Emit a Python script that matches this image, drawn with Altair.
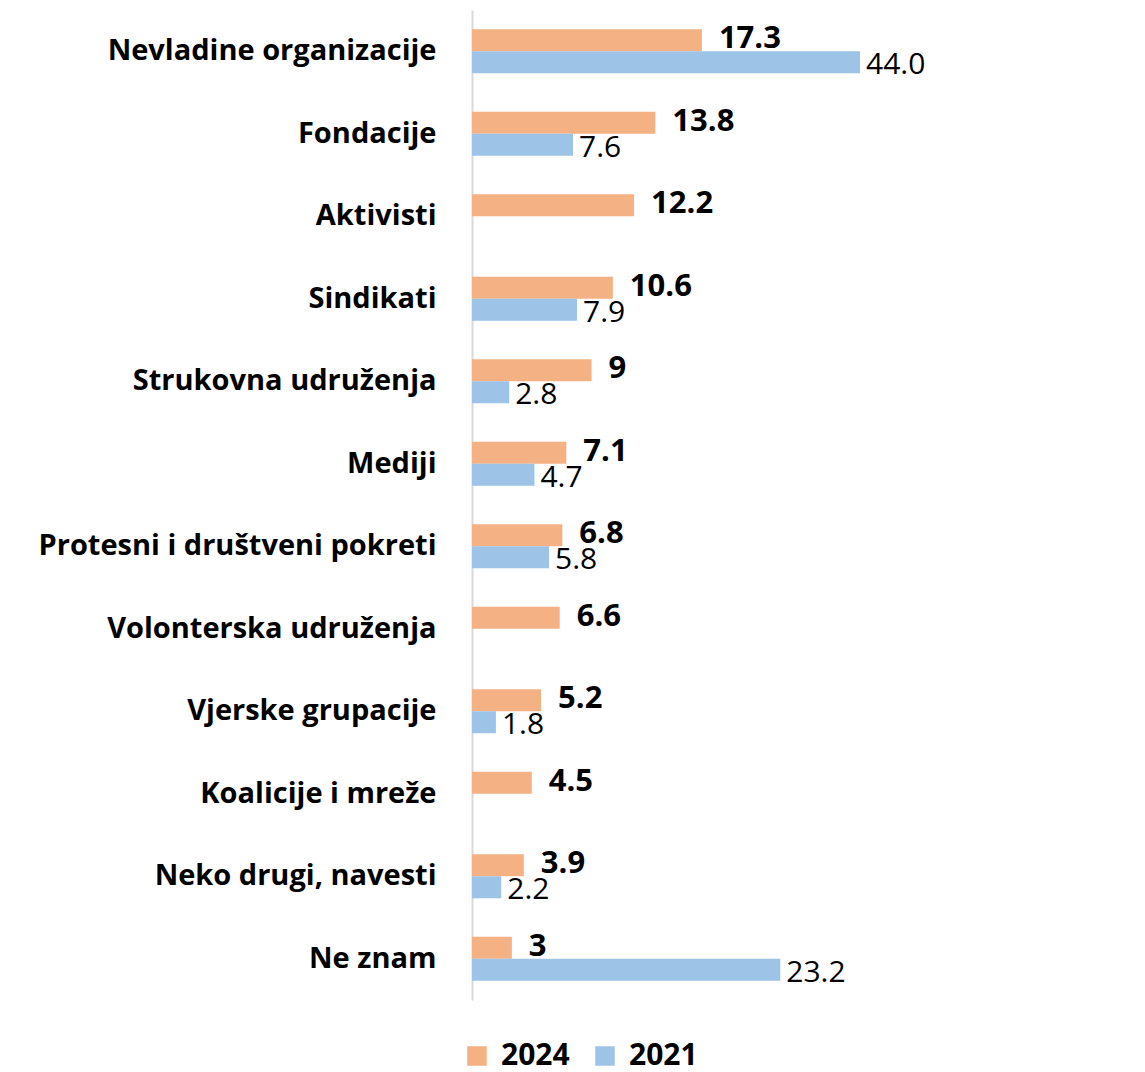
import altair as alt
import pandas as pd

categories = [
    "Nevladine organizacije",
    "Fondacije",
    "Aktivisti",
    "Sindikati",
    "Strukovna udruženja",
    "Mediji",
    "Protesni i društveni pokreti",
    "Volonterska udruženja\u00a0",
    "Vjerske grupacije",
    "Koalicije i mreže",
    "Neko drugi, navesti",
    "Ne znam",
]
values_2024 = [17.3, 13.8, 12.2, 10.6, 9, 7.1, 6.8, 6.6, 5.2, 4.5, 3.9, 3]
labels_2024 = ["17.3", "13.8", "12.2", "10.6", "9", "7.1", "6.8", "6.6", "5.2", "4.5", "3.9", "3"]
values_2021 = [44.0, 7.6, None, 7.9, 2.8, 4.7, 5.8, None, 1.8, None, 2.2, 23.2]
labels_2021 = ["44.0", "7.6", "", "7.9", "2.8", "4.7", "5.8", "", "1.8", "", "2.2", "23.2"]
series = ["2024", "2021"]
colors = ["#F4B183", "#9DC3E6"]

rows = []
for c, v, l in zip(categories, values_2024, labels_2024):
    rows.append({"category": c, "series": "2024", "value": v, "label": l})
for c, v, l in zip(categories, values_2021, labels_2021):
    if v is not None:
        rows.append({"category": c, "series": "2021", "value": v, "label": l})
df = pd.DataFrame(rows)

FONT = "Open Sans"

xscale = alt.Scale(domain=[0, 29.2], clamp=True, nice=False, zero=True)
yenc = alt.Y(
    "category:N",
    sort=categories,
    scale=alt.Scale(paddingInner=0.467, paddingOuter=0.233),
    axis=alt.Axis(
        title=None,
        ticks=False,
        labelFont=FONT,
        labelFontSize=29,
        labelFontWeight="bold",
        labelColor="#000000",
        labelPadding=36,
        domainColor="#D9D9D9",
        domainWidth=2,
        labelLimit=600,
    ),
)
yoff = alt.YOffset("series:N", sort=series, scale=alt.Scale(domain=series, paddingInner=0, paddingOuter=0))

base = alt.Chart(df)

bars = base.mark_bar(cornerRadius=0).encode(
    x=alt.X("value:Q", scale=xscale, axis=None),
    y=yenc,
    yOffset=yoff,
    color=alt.Color(
        "series:N",
        scale=alt.Scale(domain=series, range=colors),
        legend=alt.Legend(
            title=None,
            orient="none",
            direction="horizontal",
            legendX=-10,
            legendY=1031,
            symbolType="square",
            symbolSize=380,
            symbolStrokeWidth=0,
            labelFont=FONT,
            labelFontSize=30,
            labelFontWeight="bold",
            labelColor="#000000",
            labelOffset=9,
            columnPadding=20,
        ),
    ),
)

t2024 = base.transform_filter(alt.datum.series == "2024").mark_text(
    align="left", baseline="middle", dx=17, dy=-1, font=FONT, fontSize=31, fontWeight="bold", color="#000000"
).encode(
    x=alt.X("value:Q", scale=xscale),
    y=yenc,
    yOffset=yoff,
    text="label:N",
)

t2021 = base.transform_filter(alt.datum.series == "2021").mark_text(
    align="left", baseline="middle", dx=6, dy=3, font=FONT, fontSize=30, fontWeight="normal", color="#000000"
).encode(
    x=alt.X("value:Q", scale=xscale),
    y=yenc,
    yOffset=yoff,
    text="label:N",
)

chart = alt.layer(bars, t2024, t2021).properties(
    width=388,
    height=990,
    autosize=alt.AutoSizeParams(type="none"),
    padding={"left": 464, "top": 2, "right": 120, "bottom": 80},
).configure_view(strokeWidth=0, stroke=None).configure_axis(grid=False)

chart.save("out.html", embed_options={"renderer": "svg", "actions": False})
